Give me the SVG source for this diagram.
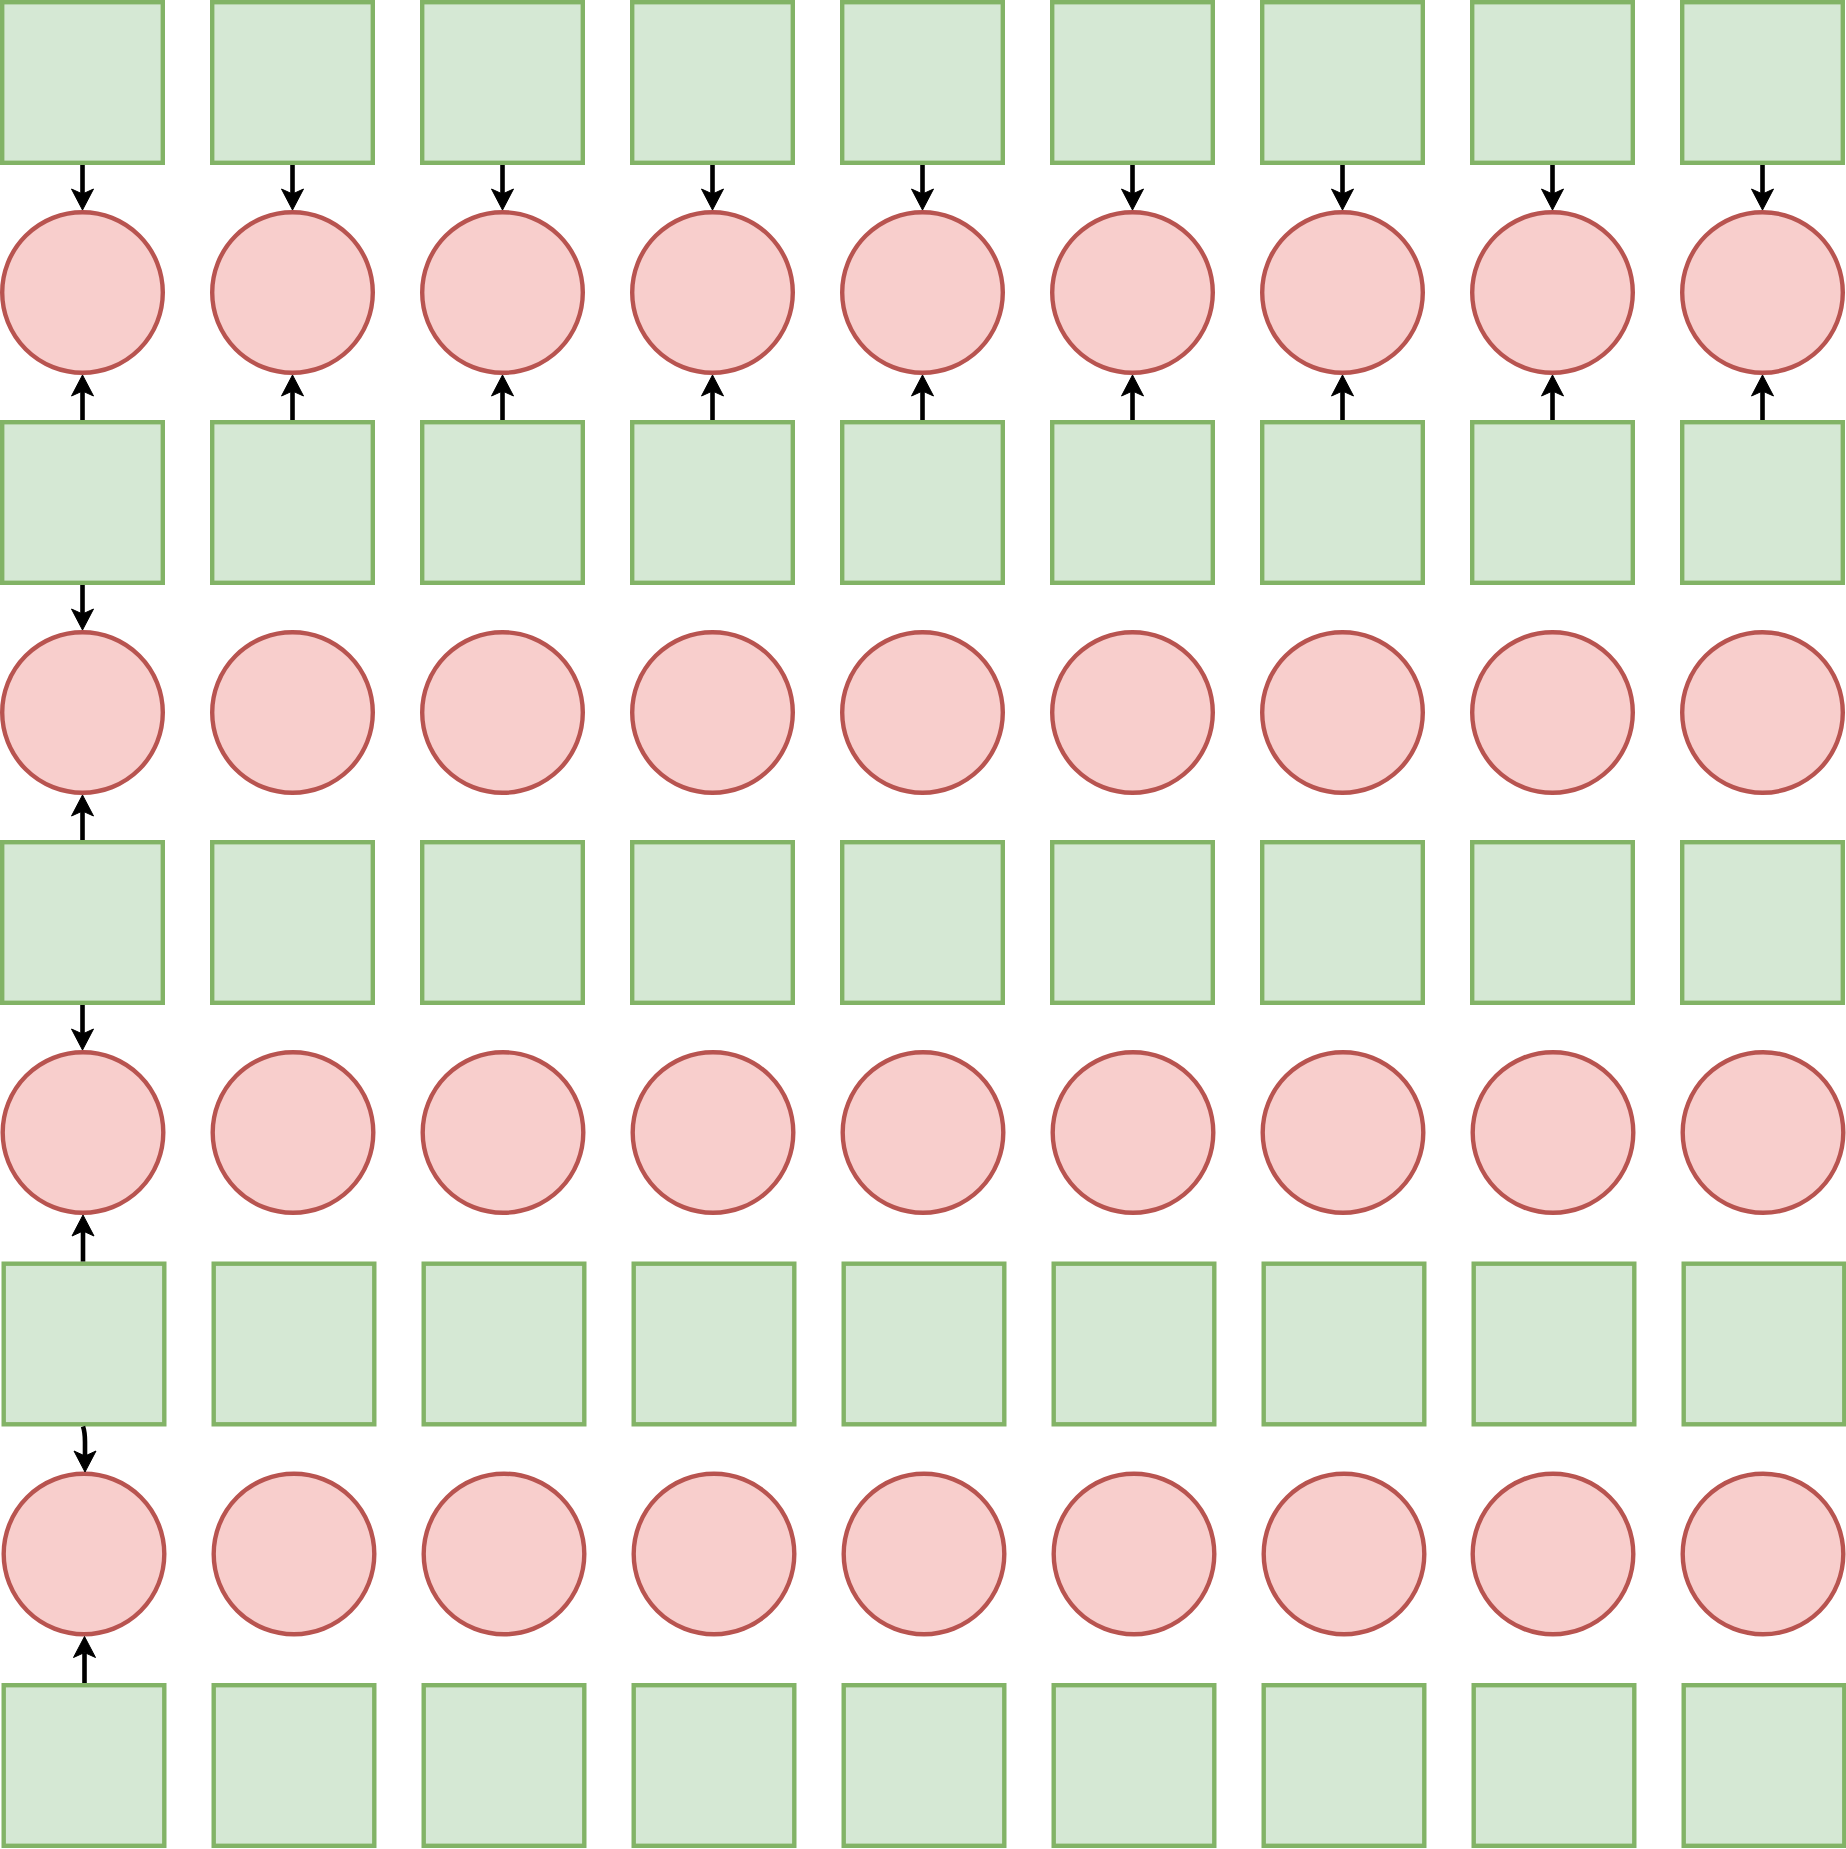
<svg xmlns="http://www.w3.org/2000/svg" width="1846" height="1849" viewBox="0 0 1846 1849">
<style>
.sq{fill:#d5e8d4;stroke:#82b366;stroke-width:4.4}
.ci{fill:#f8cecc;stroke:#b85450;stroke-width:4.4}
.e{fill:none;stroke:#000;stroke-width:4.6;marker-end:url(#arr)}
</style>
<defs>
<marker id="arr" markerUnits="userSpaceOnUse" viewBox="-1 -13 24 26" markerWidth="24" markerHeight="26" refX="5" refY="0" orient="auto" overflow="visible">
<path d="M0 -11 L21 0 L0 11 L5 0 Z" fill="#000" stroke="#000" stroke-width="1"/>
</marker>
</defs>
<rect width="1846" height="1849" fill="#fff"/>
<g id="nodes">
<g id="r1"><rect id="s1_1" class="sq" x="2.2" y="2.2" width="160.6" height="160.6"/><rect id="s1_2" class="sq" x="212.2" y="2.2" width="160.6" height="160.6"/><rect id="s1_3" class="sq" x="422.2" y="2.2" width="160.6" height="160.6"/><rect id="s1_4" class="sq" x="632.2" y="2.2" width="160.6" height="160.6"/><rect id="s1_5" class="sq" x="842.2" y="2.2" width="160.6" height="160.6"/><rect id="s1_6" class="sq" x="1052.2" y="2.2" width="160.6" height="160.6"/><rect id="s1_7" class="sq" x="1262.2" y="2.2" width="160.6" height="160.6"/><rect id="s1_8" class="sq" x="1472.2" y="2.2" width="160.6" height="160.6"/><rect id="s1_9" class="sq" x="1682.2" y="2.2" width="160.6" height="160.6"/></g>
<g id="r2"><circle id="c2_1" class="ci" cx="82.5" cy="292.5" r="80.3"/><circle id="c2_2" class="ci" cx="292.5" cy="292.5" r="80.3"/><circle id="c2_3" class="ci" cx="502.5" cy="292.5" r="80.3"/><circle id="c2_4" class="ci" cx="712.5" cy="292.5" r="80.3"/><circle id="c2_5" class="ci" cx="922.5" cy="292.5" r="80.3"/><circle id="c2_6" class="ci" cx="1132.5" cy="292.5" r="80.3"/><circle id="c2_7" class="ci" cx="1342.5" cy="292.5" r="80.3"/><circle id="c2_8" class="ci" cx="1552.5" cy="292.5" r="80.3"/><circle id="c2_9" class="ci" cx="1762.5" cy="292.5" r="80.3"/></g>
<g id="r3"><rect id="s3_1" class="sq" x="2.2" y="422.2" width="160.6" height="160.6"/><rect id="s3_2" class="sq" x="212.2" y="422.2" width="160.6" height="160.6"/><rect id="s3_3" class="sq" x="422.2" y="422.2" width="160.6" height="160.6"/><rect id="s3_4" class="sq" x="632.2" y="422.2" width="160.6" height="160.6"/><rect id="s3_5" class="sq" x="842.2" y="422.2" width="160.6" height="160.6"/><rect id="s3_6" class="sq" x="1052.2" y="422.2" width="160.6" height="160.6"/><rect id="s3_7" class="sq" x="1262.2" y="422.2" width="160.6" height="160.6"/><rect id="s3_8" class="sq" x="1472.2" y="422.2" width="160.6" height="160.6"/><rect id="s3_9" class="sq" x="1682.2" y="422.2" width="160.6" height="160.6"/></g>
<g id="r4"><circle id="c4_1" class="ci" cx="82.5" cy="712.5" r="80.3"/><circle id="c4_2" class="ci" cx="292.5" cy="712.5" r="80.3"/><circle id="c4_3" class="ci" cx="502.5" cy="712.5" r="80.3"/><circle id="c4_4" class="ci" cx="712.5" cy="712.5" r="80.3"/><circle id="c4_5" class="ci" cx="922.5" cy="712.5" r="80.3"/><circle id="c4_6" class="ci" cx="1132.5" cy="712.5" r="80.3"/><circle id="c4_7" class="ci" cx="1342.5" cy="712.5" r="80.3"/><circle id="c4_8" class="ci" cx="1552.5" cy="712.5" r="80.3"/><circle id="c4_9" class="ci" cx="1762.5" cy="712.5" r="80.3"/></g>
<g id="r5"><rect id="s5_1" class="sq" x="2.2" y="842.2" width="160.6" height="160.6"/><rect id="s5_2" class="sq" x="212.2" y="842.2" width="160.6" height="160.6"/><rect id="s5_3" class="sq" x="422.2" y="842.2" width="160.6" height="160.6"/><rect id="s5_4" class="sq" x="632.2" y="842.2" width="160.6" height="160.6"/><rect id="s5_5" class="sq" x="842.2" y="842.2" width="160.6" height="160.6"/><rect id="s5_6" class="sq" x="1052.2" y="842.2" width="160.6" height="160.6"/><rect id="s5_7" class="sq" x="1262.2" y="842.2" width="160.6" height="160.6"/><rect id="s5_8" class="sq" x="1472.2" y="842.2" width="160.6" height="160.6"/><rect id="s5_9" class="sq" x="1682.2" y="842.2" width="160.6" height="160.6"/></g>
<g id="r6"><circle id="c6_1" class="ci" cx="83" cy="1132.5" r="80.3"/><circle id="c6_2" class="ci" cx="293" cy="1132.5" r="80.3"/><circle id="c6_3" class="ci" cx="503" cy="1132.5" r="80.3"/><circle id="c6_4" class="ci" cx="713" cy="1132.5" r="80.3"/><circle id="c6_5" class="ci" cx="923" cy="1132.5" r="80.3"/><circle id="c6_6" class="ci" cx="1133" cy="1132.5" r="80.3"/><circle id="c6_7" class="ci" cx="1343" cy="1132.5" r="80.3"/><circle id="c6_8" class="ci" cx="1553" cy="1132.5" r="80.3"/><circle id="c6_9" class="ci" cx="1763" cy="1132.5" r="80.3"/></g>
<g id="r7"><rect id="s7_1" class="sq" x="3.7" y="1263.7" width="160.6" height="160.6"/><rect id="s7_2" class="sq" x="213.7" y="1263.7" width="160.6" height="160.6"/><rect id="s7_3" class="sq" x="423.7" y="1263.7" width="160.6" height="160.6"/><rect id="s7_4" class="sq" x="633.7" y="1263.7" width="160.6" height="160.6"/><rect id="s7_5" class="sq" x="843.7" y="1263.7" width="160.6" height="160.6"/><rect id="s7_6" class="sq" x="1053.7" y="1263.7" width="160.6" height="160.6"/><rect id="s7_7" class="sq" x="1263.7" y="1263.7" width="160.6" height="160.6"/><rect id="s7_8" class="sq" x="1473.7" y="1263.7" width="160.6" height="160.6"/><rect id="s7_9" class="sq" x="1683.7" y="1263.7" width="160.6" height="160.6"/></g>
<g id="r8"><circle id="c8_1" class="ci" cx="84" cy="1554" r="80.3"/><circle id="c8_2" class="ci" cx="294" cy="1554" r="80.3"/><circle id="c8_3" class="ci" cx="504" cy="1554" r="80.3"/><circle id="c8_4" class="ci" cx="714" cy="1554" r="80.3"/><circle id="c8_5" class="ci" cx="924" cy="1554" r="80.3"/><circle id="c8_6" class="ci" cx="1134" cy="1554" r="80.3"/><circle id="c8_7" class="ci" cx="1344" cy="1554" r="80.3"/><circle id="c8_8" class="ci" cx="1553" cy="1554" r="80.3"/><circle id="c8_9" class="ci" cx="1763" cy="1554" r="80.3"/></g>
<g id="r9"><rect id="s9_1" class="sq" x="3.7" y="1685.2" width="160.6" height="160.6"/><rect id="s9_2" class="sq" x="213.7" y="1685.2" width="160.6" height="160.6"/><rect id="s9_3" class="sq" x="423.7" y="1685.2" width="160.6" height="160.6"/><rect id="s9_4" class="sq" x="633.7" y="1685.2" width="160.6" height="160.6"/><rect id="s9_5" class="sq" x="843.7" y="1685.2" width="160.6" height="160.6"/><rect id="s9_6" class="sq" x="1053.7" y="1685.2" width="160.6" height="160.6"/><rect id="s9_7" class="sq" x="1263.7" y="1685.2" width="160.6" height="160.6"/><rect id="s9_8" class="sq" x="1473.7" y="1685.2" width="160.6" height="160.6"/><rect id="s9_9" class="sq" x="1683.7" y="1685.2" width="160.6" height="160.6"/></g>
</g>
<g id="connectors">
<path class="e" d="M82.5 165 L82.5 194"/>
<path class="e" d="M292.5 165 L292.5 194"/>
<path class="e" d="M502.5 165 L502.5 194"/>
<path class="e" d="M712.5 165 L712.5 194"/>
<path class="e" d="M922.5 165 L922.5 194"/>
<path class="e" d="M1132.5 165 L1132.5 194"/>
<path class="e" d="M1342.5 165 L1342.5 194"/>
<path class="e" d="M1552.5 165 L1552.5 194"/>
<path class="e" d="M1762.5 165 L1762.5 194"/>
<path class="e" d="M82.5 420 L82.5 391"/>
<path class="e" d="M292.5 420 L292.5 391"/>
<path class="e" d="M502.5 420 L502.5 391"/>
<path class="e" d="M712.5 420 L712.5 391"/>
<path class="e" d="M922.5 420 L922.5 391"/>
<path class="e" d="M1132.5 420 L1132.5 391"/>
<path class="e" d="M1342.5 420 L1342.5 391"/>
<path class="e" d="M1552.5 420 L1552.5 391"/>
<path class="e" d="M1762.5 420 L1762.5 391"/>
<path class="e" d="M82.5 585 L82.5 614"/>
<path class="e" d="M82.5 840 L82.5 811"/>
<path class="e" d="M82.5 1005 L82.5 1034"/>
<path class="e" d="M83 1261.5 L83 1231"/>
<path class="e" d="M83 1426.5 Q85 1432 85 1442 L85 1456"/>
<path class="e" d="M84.5 1683 L84.5 1652.5"/>
</g>
</svg>
